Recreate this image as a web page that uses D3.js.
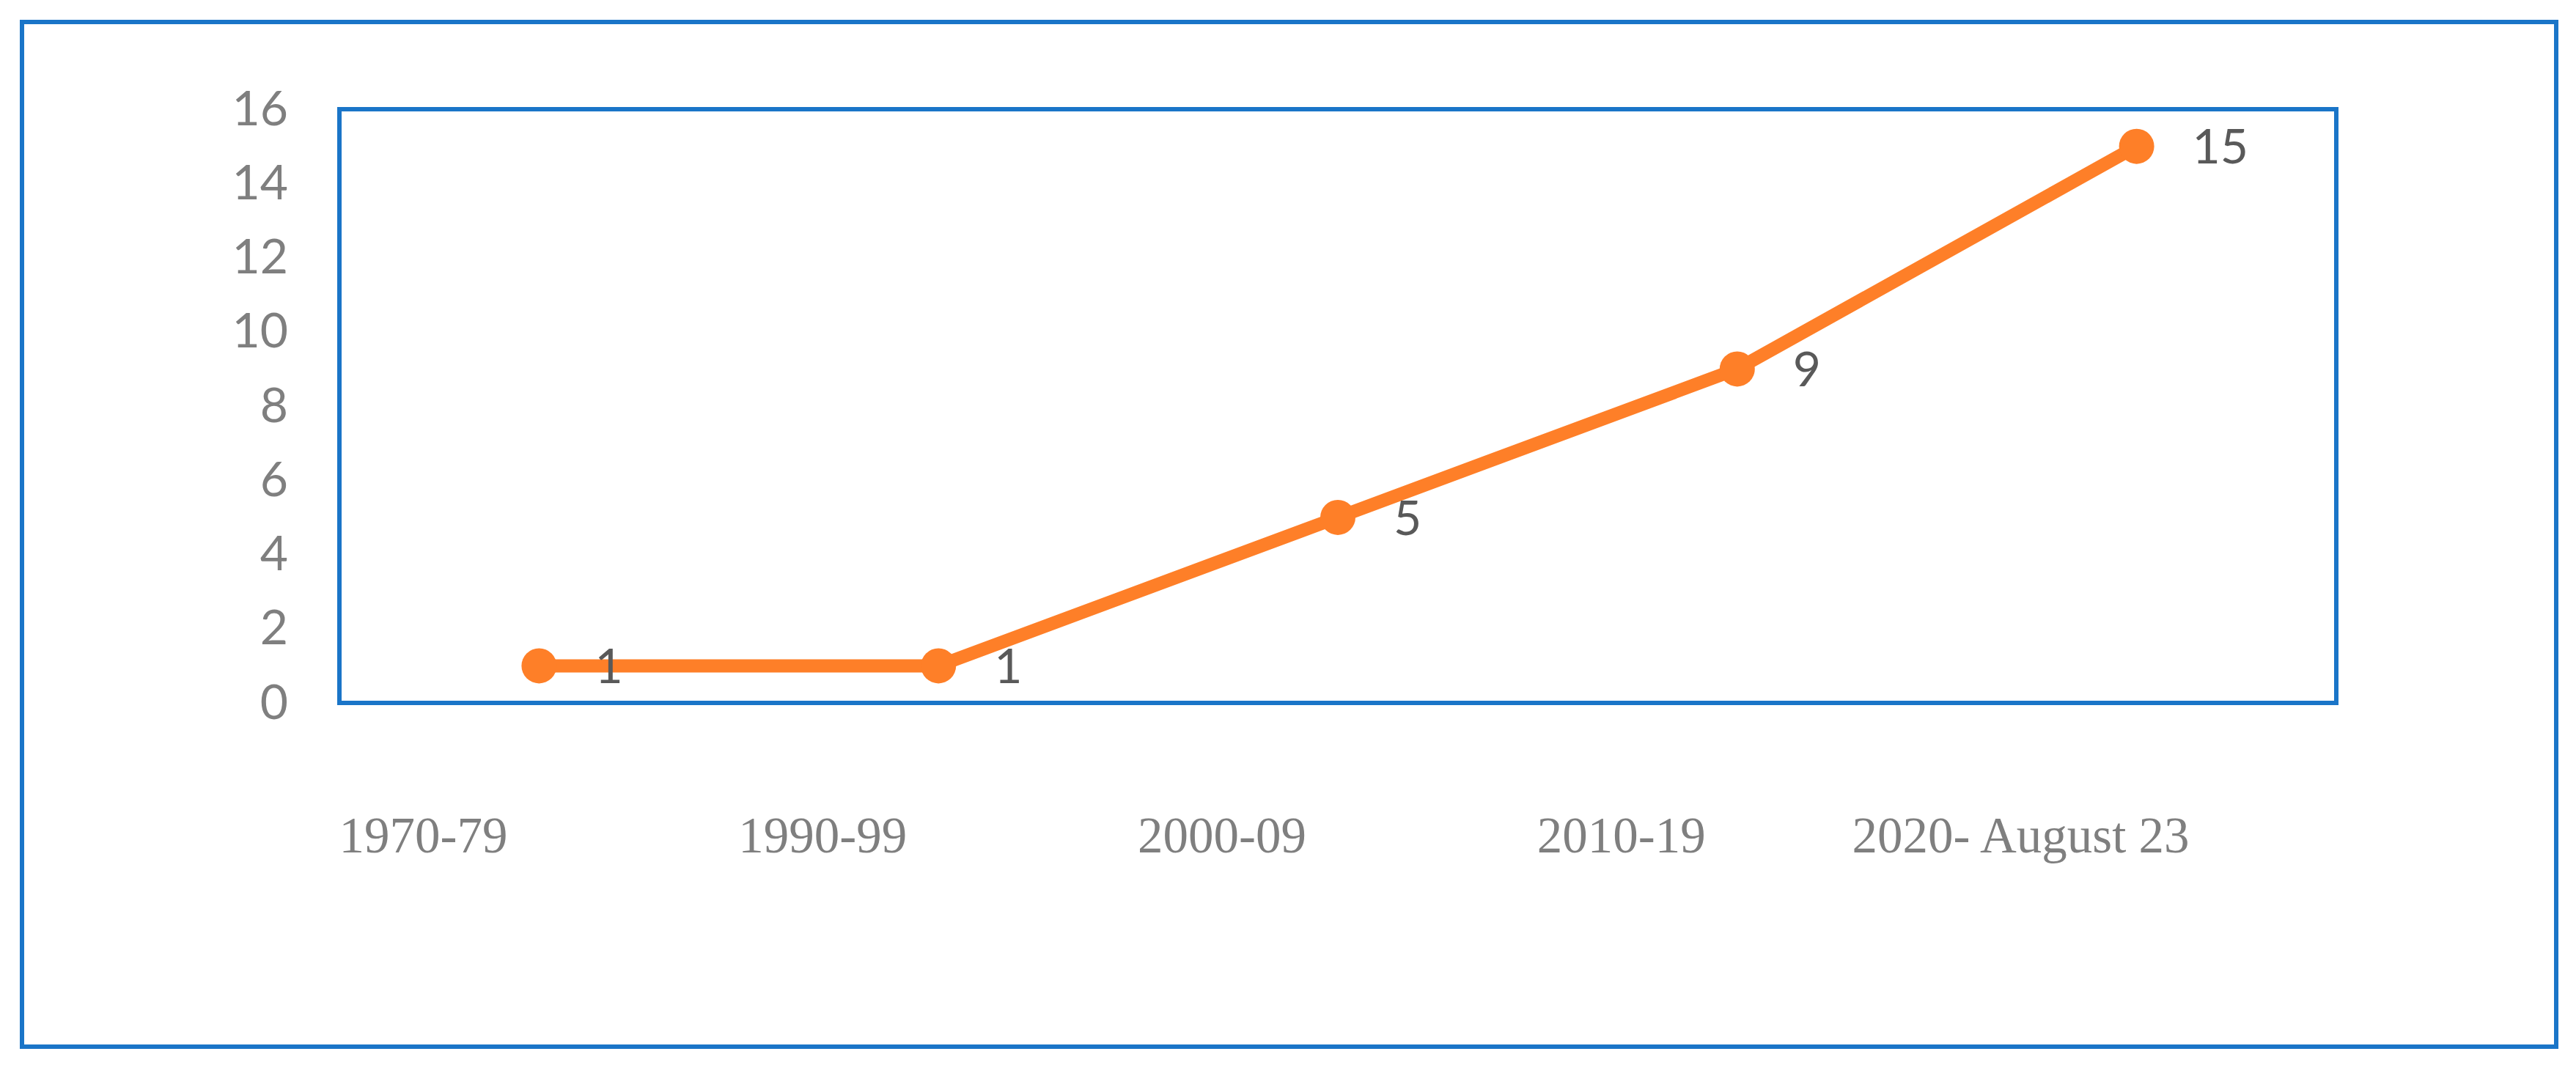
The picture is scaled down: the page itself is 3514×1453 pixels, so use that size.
<!DOCTYPE html>
<html>
<head>
<meta charset="utf-8">
<script src="https://cdn.jsdelivr.net/npm/d3@7"></script>
<style>
  body { margin: 0; background: #fff; }
</style>
</head>
<body>
<svg></svg>
<script>
const categories = ["1970-79", "1990-99", "2000-09", "2010-19", "2020- August 23"];
const values = [1, 1, 5, 9, 15];
const yTicks = [0, 2, 4, 6, 8, 10, 12, 14, 16];

let width = 3514;
let height = 1453;
let blue = "#1a75c8";
let orange = "#fe7f28";

let svg = d3.select("svg")
    .attr("width", width)
    .attr("height", height)

// outer frame
svg.append("rect")
    .attr("x", 30)
    .attr("y", 30)
    .attr("width", 3457)
    .attr("height", 1398)
    .attr("fill", "none")
    .attr("stroke", blue)
    .attr("stroke-width", 6)

let plot = { left: 463, right: 3187, top: 149, bottom: 959 };

let xScale = d3.scaleBand()
    .domain(categories)
    .range([plot.left, plot.right])

let yScale = d3.scaleLinear()
    .domain([0, 16])
    .range([plot.bottom, plot.top])

// plot area box
svg.append("rect")
    .attr("x", plot.left)
    .attr("y", plot.top)
    .attr("width", plot.right - plot.left)
    .attr("height", plot.bottom - plot.top)
    .attr("fill", "none")
    .attr("stroke", blue)
    .attr("stroke-width", 6)

let yAxis = d3.axisLeft(yScale)
    .tickValues(yTicks)
    .tickSize(0)
    .tickPadding(70)

svg.append("g")
    .attr("transform", `translate(${plot.left}, 0)`)
    .call(yAxis)
    .call(g => g.select(".domain").remove())
    .selectAll("text")
    .attr("font-family", "Lato, 'Open Sans', sans-serif")
    .attr("font-size", 66)
    .attr("fill", "#7f7f7f")

// category labels sit a bit left of their points, below the box
svg.selectAll(".xlabel")
    .data(categories)
    .enter()
    .append("text")
    .attr("class", "xlabel")
    .attr("x", d => xScale(d) + xScale.bandwidth()/2 - 158)
    .attr("y", 1163)
    .attr("text-anchor", "middle")
    .attr("font-family", "'Liberation Serif', 'Times New Roman', serif")
    .attr("font-size", 69)
    .attr("fill", "#7f7f7f")
    .text(d => d)

let cx = d => xScale(d) + xScale.bandwidth()/2;

let line = d3.line()
    .x((d, i) => cx(categories[i]))
    .y(d => yScale(d))

svg.append("path")
    .datum(values)
    .attr("d", line)
    .attr("fill", "none")
    .attr("stroke", orange)
    .attr("stroke-width", 18)
    .attr("stroke-linejoin", "round")

svg.selectAll(".dot")
    .data(values)
    .enter()
    .append("circle")
    .attr("class", "dot")
    .attr("cx", (d, i) => cx(categories[i]))
    .attr("cy", d => yScale(d))
    .attr("r", 24)
    .attr("fill", orange)

svg.selectAll(".vlabel")
    .data(values)
    .enter()
    .append("text")
    .attr("class", "vlabel")
    .attr("x", (d, i) => cx(categories[i]) + 76)
    .attr("y", d => yScale(d))
    .attr("dy", "0.36em")
    .attr("font-family", "Lato, 'Open Sans', sans-serif")
    .attr("font-size", 66)
    .attr("fill", "#595959")
    .text(d => d)
</script>
</body>
</html>
